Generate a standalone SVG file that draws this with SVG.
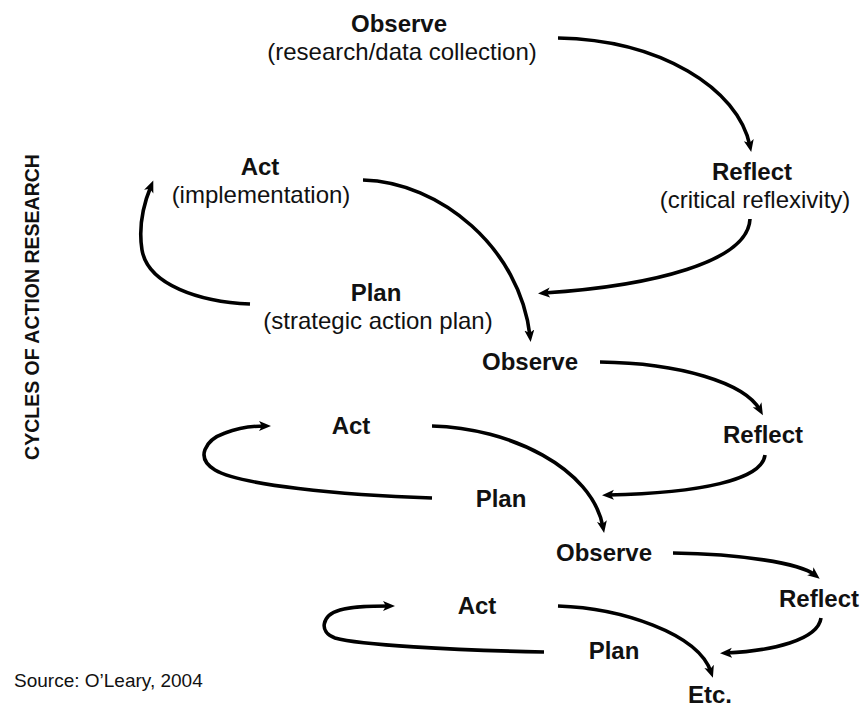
<svg xmlns="http://www.w3.org/2000/svg" width="861" height="708" viewBox="0 0 861 708">
  <style>
    .lbl { font-family: "Liberation Sans", Arial, sans-serif; font-size: 24px; font-weight: bold; fill: #111; text-anchor: middle; }
    .sub { font-family: "Liberation Sans", Arial, sans-serif; font-size: 24px; fill: #111; text-anchor: middle; }
    .title { font-family: "Liberation Sans", Arial, sans-serif; font-size: 19.5px; font-weight: bold; fill: #111; text-anchor: middle; }
    .src { font-family: "Liberation Sans", Arial, sans-serif; font-size: 19px; fill: #111; }
    .arc { fill: none; stroke: #000; stroke-width: 3.6; marker-end: url(#head); }
  </style>
  <defs>
    <marker id="head" markerUnits="userSpaceOnUse" markerWidth="14" markerHeight="12" refX="6" refY="5" orient="auto">
      <path d="M0,0 L12,5 L0,10 L3,5 z" fill="#000"/>
    </marker>
  </defs>
  <rect width="861" height="708" fill="#fff"/>

  <!-- vertical heading -->
  <text class="title" transform="translate(39,307) rotate(-90)">CYCLES OF ACTION RESEARCH</text>

  <!-- first cycle -->
  <g id="observe1">
    <text class="lbl" x="399" y="32">Observe</text>
    <text class="sub" x="402" y="60">(research/data collection)</text>
  </g>
  <g id="reflect1">
    <text class="lbl" x="752" y="180">Reflect</text>
    <text class="sub" x="755" y="208">(critical reflexivity)</text>
  </g>
  <g id="act1">
    <text class="lbl" x="260" y="175">Act</text>
    <text class="sub" x="261" y="203">(implementation)</text>
  </g>
  <g id="plan1">
    <text class="lbl" x="376" y="301">Plan</text>
    <text class="sub" x="378" y="329">(strategic action plan)</text>
  </g>

  <!-- second cycle -->
  <g id="observe2"><text class="lbl" x="530" y="370">Observe</text></g>
  <g id="reflect2"><text class="lbl" x="763" y="443">Reflect</text></g>
  <g id="act2"><text class="lbl" x="351" y="434">Act</text></g>
  <g id="plan2"><text class="lbl" x="501" y="507">Plan</text></g>

  <!-- third cycle -->
  <g id="observe3"><text class="lbl" x="604" y="561">Observe</text></g>
  <g id="reflect3"><text class="lbl" x="819" y="607">Reflect</text></g>
  <g id="act3"><text class="lbl" x="477" y="614">Act</text></g>
  <g id="plan3"><text class="lbl" x="614" y="659">Plan</text></g>
  <g id="etc"><text class="lbl" x="710" y="703">Etc.</text></g>

  <g id="source"><text class="src" x="14" y="687">Source: O’Leary, 2004</text></g>

  <g id="connectors">
    <!-- cycle 1 -->
    <path class="arc" d="M558,38 C660,40 738,88 750,146"/>
    <path class="arc" d="M750,219 C748,262 652,286 544,293"/>
    <path class="arc" d="M363,180 C440,182 520,248 530,336"/>
    <path class="arc" d="M250,304 C200,302 148,285 142,250 C138,225 144,203 151,186"/>
    <!-- cycle 2 -->
    <path class="arc" d="M600,362 C680,363 745,383 760,410"/>
    <path class="arc" d="M765,455 C762,480 700,493 608,495"/>
    <path class="arc" d="M432,426 C510,428 592,468 603,527"/>
    <path class="arc" d="M432,498 C340,495 240,485 215,470 C195,458 205,440 225,433 C238,428 250,426 265,426"/>
    <!-- cycle 3 -->
    <path class="arc" d="M673,553 C740,554 800,563 815,575"/>
    <path class="arc" d="M821,618 C818,640 772,651 726,653"/>
    <path class="arc" d="M558,606 C620,608 698,633 711,672"/>
    <path class="arc" d="M544,652 C450,650 360,645 335,638 C318,632 322,615 340,610 C355,606 372,606 389,606"/>
  </g>
</svg>
